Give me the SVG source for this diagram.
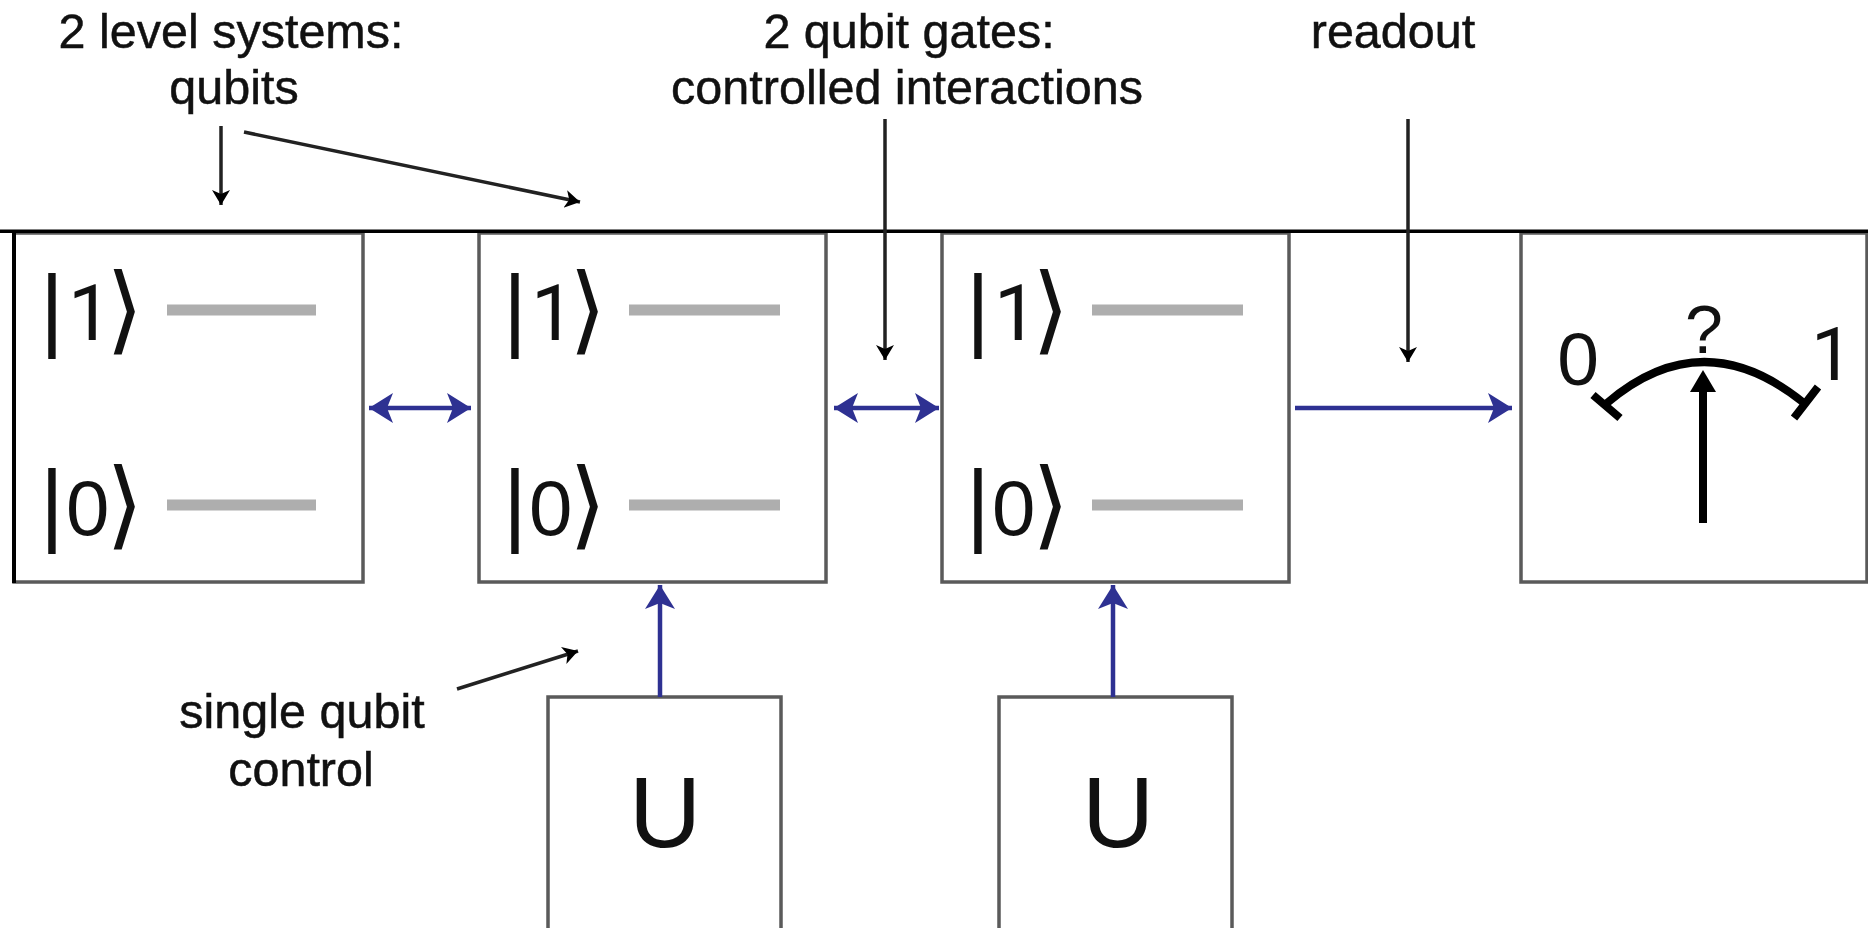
<svg xmlns="http://www.w3.org/2000/svg" width="1868" height="928" viewBox="0 0 1868 928">
<style>
text{font-family:"Liberation Sans",Arial,sans-serif;fill:#111;text-anchor:middle}
.lab{font-size:48.5px;stroke:#111;stroke-width:.5}
.ket{font-size:78px;text-anchor:start}
.ang{font-family:"DejaVu Sans",sans-serif;font-size:96px}
.bar{font-size:92px}
.one{font-family:Roboto,sans-serif;letter-spacing:-8px}
.zero{letter-spacing:-8px}
.u{font-size:100px}
.box{fill:#fff;stroke:#5a5a5a;stroke-width:3.5}
.lvl{stroke:#aeaeae;stroke-width:11;fill:none}
.blue{stroke:#2e3192;stroke-width:4.5;fill:none}
.blk{stroke:#222;stroke-width:3.5;fill:none}
.mtr{stroke:#000;stroke-width:8;fill:none}
svg>g{filter:url(#soft)}
</style>
<defs>
<filter id="soft" x="-5%" y="-5%" width="110%" height="110%" color-interpolation-filters="sRGB"><feGaussianBlur stdDeviation="0.7"/></filter>
<marker id="ab" markerUnits="userSpaceOnUse" markerWidth="26" markerHeight="32" refX="24" refY="16" orient="auto-start-reverse"><path d="M24 16L0 1L6 16L0 31Z" fill="#2e3192"/></marker>
<marker id="ak" markerUnits="userSpaceOnUse" markerWidth="18" markerHeight="20" refX="15" refY="9" orient="auto"><path d="M15 9L0 0L4 9L0 18Z" fill="#000"/></marker>
</defs>
<rect width="1868" height="928" fill="#fff"/>
<g id="labels">
<text class="lab" x="231" y="48">2 level systems:</text>
<text class="lab" x="234" y="104">qubits</text>
<text class="lab" x="909" y="48">2 qubit gates:</text>
<text class="lab" x="907" y="104">controlled interactions</text>
<text class="lab" x="1393" y="48">readout</text>
<text class="lab" x="302" y="728">single qubit</text>
<text class="lab" x="301" y="786">control</text>
</g>
<g id="qubit1">
<rect class="box" x="14" y="233" width="349" height="349"/>
<rect x="12" y="231" width="4" height="352" fill="#000"/>
<line class="lvl" x1="167" y1="310" x2="316" y2="310"/><line class="lvl" x1="167" y1="505" x2="316" y2="505"/>
<text class="ket" x="40" y="340"><tspan class="bar" y="340">|</tspan><tspan class="one" x="68" y="340">1</tspan><tspan class="ang" x="106" y="342">⟩</tspan></text>
<text class="ket" x="40" y="535"><tspan class="bar" y="535">|</tspan><tspan class="zero" x="66" y="535">0</tspan><tspan class="ang" x="106" y="537">⟩</tspan></text>
</g>
<g id="qubit2">
<rect class="box" x="479" y="233" width="347" height="349"/>
<line class="lvl" x1="629" y1="310" x2="780" y2="310"/><line class="lvl" x1="629" y1="505" x2="780" y2="505"/>
<text class="ket" x="503" y="340"><tspan class="bar" y="340">|</tspan><tspan class="one" x="531" y="340">1</tspan><tspan class="ang" x="569" y="342">⟩</tspan></text>
<text class="ket" x="503" y="535"><tspan class="bar" y="535">|</tspan><tspan class="zero" x="529" y="535">0</tspan><tspan class="ang" x="569" y="537">⟩</tspan></text>
</g>
<g id="qubit3">
<rect class="box" x="942" y="233" width="347" height="349"/>
<line class="lvl" x1="1092" y1="310" x2="1243" y2="310"/><line class="lvl" x1="1092" y1="505" x2="1243" y2="505"/>
<text class="ket" x="966" y="340"><tspan class="bar" y="340">|</tspan><tspan class="one" x="994" y="340">1</tspan><tspan class="ang" x="1032" y="342">⟩</tspan></text>
<text class="ket" x="966" y="535"><tspan class="bar" y="535">|</tspan><tspan class="zero" x="992" y="535">0</tspan><tspan class="ang" x="1032" y="537">⟩</tspan></text>
</g>
<g id="meter">
<rect class="box" x="1521" y="233" width="346" height="349"/>
<path class="mtr" d="M1607 403Q1703 321 1804 403"/>
<path class="mtr" d="M1593 395L1620 418M1818 387L1794 418"/>
<line class="mtr" x1="1703" y1="523" x2="1703" y2="385"/>
<path d="M1703 370L1716 392H1690Z" fill="#000"/>
<text x="1578" y="385" font-size="75">0</text>
<text x="1832" y="380" font-size="75" style="font-family:Roboto,sans-serif">1</text>
<text x="1704" y="353" font-size="68">?</text>
</g>
<g id="gate1">
<rect class="box" x="548" y="697" width="233" height="240"/>
<text class="u" x="665" y="847">U</text>
</g>
<g id="gate2">
<rect class="box" x="999" y="697" width="233" height="240"/>
<text class="u" x="1118" y="847">U</text>
</g>
<rect id="topline" x="0" y="229.5" width="1868" height="3.5" fill="#000"/>
<g id="connectors">
<line class="blue" x1="369" y1="408" x2="471" y2="408" marker-start="url(#ab)" marker-end="url(#ab)" style="filter:none"/>
<line class="blue" x1="834" y1="408" x2="939" y2="408" marker-start="url(#ab)" marker-end="url(#ab)"/>
<line class="blue" x1="1295" y1="408" x2="1512" y2="408" marker-end="url(#ab)"/>
<line class="blue" x1="660" y1="697" x2="660" y2="585" marker-end="url(#ab)"/>
<line class="blue" x1="1113" y1="697" x2="1113" y2="585" marker-end="url(#ab)"/>
<line class="blk" x1="221" y1="126" x2="221" y2="205" marker-end="url(#ak)"/>
<line class="blk" x1="244" y1="132" x2="580" y2="202" marker-end="url(#ak)"/>
<line class="blk" x1="885" y1="119" x2="885" y2="360" marker-end="url(#ak)"/>
<line class="blk" x1="1408" y1="119" x2="1408" y2="362" marker-end="url(#ak)"/>
<line class="blk" x1="457" y1="689" x2="578" y2="651" marker-end="url(#ak)"/>
</g>
</svg>
